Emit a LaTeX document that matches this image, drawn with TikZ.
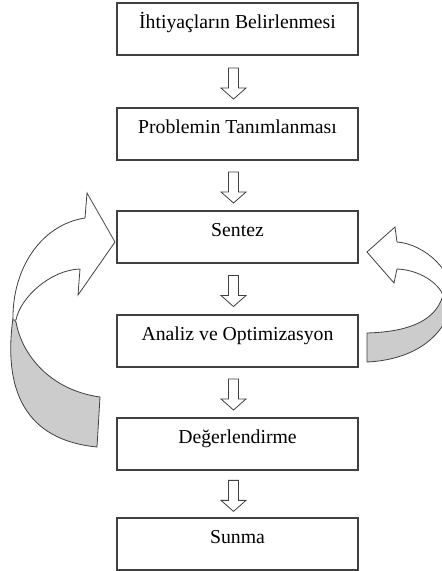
\documentclass[tikz,border=0pt]{standalone}
\usepackage{fontspec}
\setmainfont{Liberation Serif}
\usetikzlibrary{calc}

\begin{document}
\begin{tikzpicture}[x=0.75pt, y=-0.75pt,
    stepbox/.style={draw=black!75, line width=0.85pt, minimum width=180.75pt, inner sep=0pt, text height=18.75pt, text depth=20.25pt, font=\fontsize{14.8}{17}\selectfont},
    ribbon/.style={draw=black!75, line width=0.6pt},
    blkdown/.pic={\draw[ribbon, fill=white] (-5,-15.5) -- (5,-15.5) -- (5,4.5) -- (12.5,4.5) -- (0,15.5) -- (-12.5,4.5) -- (-5,4.5) -- cycle;}
]
\useasboundingbox (0,0) rectangle (442,571);

\node[stepbox] (ihtiyac) at (237.5,29) {İhtiyaçların Belirlenmesi};
\node[stepbox] (problem) at (237.5,134) {Problemin Tanımlanması};
\node[stepbox] (sentez) at (237.5,237) {Sentez};
\node[stepbox] (analiz) at (237.5,341) {Analiz ve Optimizasyon};
\node[stepbox] (degerlendirme) at (237.5,444) {Değerlendirme};
\node[stepbox] (sunma) at (237.5,544) {Sunma};

\path (ihtiyac.south) -- pic[pos=.54, xshift=-3pt] {blkdown} (problem.north);
\path (problem.south) -- pic[pos=.54, xshift=-3pt] {blkdown} (sentez.north);
\path (sentez.south) -- pic[pos=.54, xshift=-3pt] {blkdown} (analiz.north);
\path (analiz.south) -- pic[pos=.54, xshift=-3pt] {blkdown} (degerlendirme.north);
\path (degerlendirme.south) -- pic[pos=.54, xshift=-3pt] {blkdown} (sunma.north);

\draw[ribbon, fill=gray!40] (13,318) .. controls (3,390) and (25,440) .. (97,447) -- (100,397) .. controls (50,390) and (22,355) .. (16,322) -- cycle;
\draw[ribbon, fill=white] (85,218) -- (87,193) -- (115,242) -- (78,295) -- (80,269) .. controls (50,270) and (20,298) .. (16,320) -- (13,320) .. controls (12,270) and (40,225) .. (85,218) -- cycle;

\draw[ribbon, fill=gray!40] (443,295) .. controls (435,325) and (400,332) .. (367,333) -- (367,362) .. controls (410,360) and (445,340) .. (453,300) -- cycle;
\draw[ribbon, fill=white] (397,242) -- (395,227) -- (367,252) -- (394,283) -- (397,269) .. controls (420,270) and (438,283) .. (443,295) -- (453,300) .. controls (455,272) and (425,244) .. (397,242) -- cycle;
\end{tikzpicture}
\end{document}
